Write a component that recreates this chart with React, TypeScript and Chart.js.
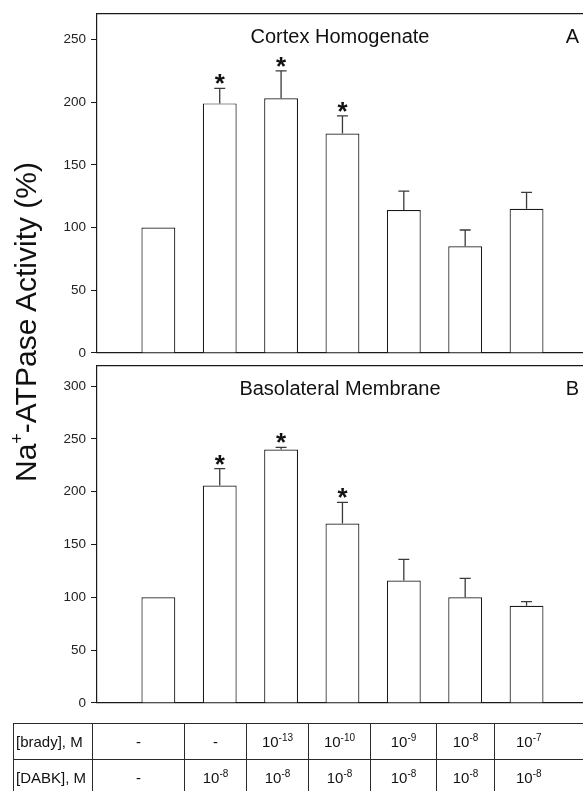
import React, { useEffect, useRef } from 'react';
import { Chart, registerables } from 'chart.js';

Chart.register(...registerables);

const FONT = 'Arial, "Liberation Sans", Helvetica, sans-serif';
Chart.defaults.font.family = FONT;

// ---- data ----
const conditions = ['Control', 'DABK', 'DABK + brady 1e-13', 'DABK + brady 1e-10', 'DABK + brady 1e-9', 'DABK + brady 1e-8', 'DABK + brady 1e-7'];
const xPositions = [1, 2, 3, 4, 5, 6, 7];

const cortexMeans = [100, 199, 203, 175, 114, 85, 115];
const cortexErrors = [0, 12, 22, 14, 15, 13, 13];
const cortexSignificant = [false, true, true, true, false, false, false];

const membraneMeans = [100, 206, 240, 170, 116, 100, 92];
const membraneErrors = [0, 16, 2, 20, 20, 18, 4];
const membraneSignificant = [false, true, true, true, false, false, false];

const cortexTicks = [0, 50, 100, 150, 200, 250];
const membraneTicks = [0, 50, 100, 150, 200, 250, 300];

const bradyExponents: (number | null)[] = [null, null, -13, -10, -9, -8, -7];
const dabkExponents: (number | null)[] = [null, -8, -8, -8, -8, -8, -8];

const X_MAX = 7.92;

const errorBarPlugin = {
  id: 'errorBars',
  afterDatasetsDraw(chart: any) {
    const { ctx } = chart;
    const yScale = chart.scales.y;
    chart.data.datasets.forEach((ds: any, di: number) => {
      const meta = chart.getDatasetMeta(di);
      meta.data.forEach((bar: any, i: number) => {
        const v = ds.data[i].y;
        const e = ds.errors[i];
        const x = bar.x;
        const yTop = yScale.getPixelForValue(v);
        const yCap = yScale.getPixelForValue(v + e);
        ctx.save();
        if (e > 0) {
          ctx.strokeStyle = '#3a3a3a';
          ctx.lineWidth = 1.3;
          ctx.beginPath();
          ctx.moveTo(x, yTop);
          ctx.lineTo(x, yCap);
          ctx.moveTo(x - 5.5, yCap);
          ctx.lineTo(x + 5.5, yCap);
          ctx.stroke();
        }
        if (ds.significant[i]) {
          ctx.fillStyle = '#111';
          ctx.font = `bold 26px ${FONT}`;
          ctx.textAlign = 'center';
          ctx.textBaseline = 'alphabetic';
          ctx.fillText('*', x, yCap + 4);
        }
        ctx.restore();
      });
    });
  },
};

const panelTextPlugin = {
  id: 'panelText',
  afterDraw(chart: any, _args: any, opts: any) {
    const { ctx, chartArea } = chart;
    ctx.save();
    ctx.fillStyle = '#111';
    ctx.font = `20px ${FONT}`;
    ctx.textBaseline = 'alphabetic';
    ctx.textAlign = 'center';
    ctx.fillText(opts.title, (chartArea.left + chartArea.right) / 2, chartArea.top + 30);
    ctx.textAlign = 'right';
    ctx.fillText(opts.letter, chartArea.right - 4, chartArea.top + 30);
    ctx.restore();
  },
};

type PanelProps = {
  means: number[];
  errors: number[];
  significant: boolean[];
  ticks: number[];
  yMax: number;
  title: string;
  letter: string;
  top: number;
  height: number;
  padTop: number;
  padBottom: number;
};

function Panel(p: PanelProps) {
  const ref = useRef<HTMLCanvasElement>(null);
  useEffect(() => {
    if (!ref.current) return;
    const chart = new Chart(ref.current, {
      type: 'bar',
      data: {
        labels: conditions,
        datasets: [
          {
            data: xPositions.map((x, i) => ({ x, y: p.means[i] })),
            backgroundColor: '#ffffff',
            borderColor: '#1a1a1a',
            borderWidth: 1.2,
            barPercentage: 0.6,
            categoryPercentage: 1,
            errors: p.errors,
            significant: p.significant,
          } as any,
        ],
      },
      options: {
        responsive: false,
        animation: false,
        events: [],
        layout: { padding: { left: 0, right: 0, top: p.padTop, bottom: p.padBottom } },
        plugins: {
          legend: { display: false },
          tooltip: { enabled: false },
          panelText: { title: p.title, letter: p.letter },
        } as any,
        scales: {
          x: {
            type: 'linear',
            position: 'bottom',
            min: 0,
            max: X_MAX,
            offset: false,
            ticks: { display: false },
            grid: { display: true, drawOnChartArea: false, drawTicks: false },
            border: { display: true, color: '#1a1a1a', width: 1.2 },
            afterFit: (s: any) => { s.height = 0; },
          },
          xTop: {
            type: 'linear',
            position: 'top',
            min: 0,
            max: X_MAX,
            offset: false,
            ticks: { display: false },
            grid: { display: true, drawOnChartArea: false, drawTicks: false },
            border: { display: true, color: '#1a1a1a', width: 1.2 },
            afterFit: (s: any) => { s.height = 0; },
          },
          y: {
            type: 'linear',
            min: 0,
            max: p.yMax,
            afterBuildTicks: (s: any) => { s.ticks = p.ticks.map((v) => ({ value: v })); },
            ticks: { color: '#222', font: { size: 13.5 }, padding: 5 },
            grid: { display: true, drawOnChartArea: false, drawTicks: true, tickLength: 6, color: '#1a1a1a', lineWidth: 1 },
            border: { display: true, color: '#1a1a1a', width: 1.2 },
            afterFit: (s: any) => { s.width = 97; },
          },
        } as any,
      },
      plugins: [errorBarPlugin, panelTextPlugin],
    });
    return () => chart.destroy();
  }, []);
  return (
    <canvas
      ref={ref}
      width={583}
      height={p.height}
      style={{ position: 'absolute', left: 0, top: p.top, width: 583, height: p.height }}
    />
  );
}

function Power({ exp }: { exp: number | null }) {
  if (exp === null) return <span>-</span>;
  return (
    <span>
      10
      <span style={{ fontSize: 10, position: 'relative', top: -6 }}>{String(exp)}</span>
    </span>
  );
}

const colWidths = [79, 92, 62, 62, 62, 66, 58, 120];

function ConditionTable() {
  const cellBase: React.CSSProperties = {
    border: '1px solid #2a2a2a',
    height: 35,
    padding: 0,
    fontSize: 15,
    fontFamily: FONT,
    color: '#111',
    textAlign: 'center',
    verticalAlign: 'middle',
  };
  const rows: { label: string; exps: (number | null)[] }[] = [
    { label: '[brady], M', exps: bradyExponents },
    { label: '[DABK], M', exps: dabkExponents },
  ];
  return (
    <table
      style={{
        position: 'absolute',
        left: 13,
        top: 723,
        borderCollapse: 'collapse',
        tableLayout: 'fixed',
        width: colWidths.reduce((a, b) => a + b, 0),
      }}
    >
      <colgroup>
        {colWidths.map((w, i) => (
          <col key={i} style={{ width: w }} />
        ))}
      </colgroup>
      <tbody>
        {rows.map((r) => (
          <tr key={r.label}>
            <td style={{ ...cellBase, textAlign: 'left', paddingLeft: 2 }}>{r.label}</td>
            {r.exps.map((e, i) => (
              <td
                key={i}
                style={
                  i === r.exps.length - 1
                    ? { ...cellBase, textAlign: 'left', paddingLeft: 21, borderRight: 'none' }
                    : cellBase
                }
              >
                <Power exp={e} />
              </td>
            ))}
          </tr>
        ))}
      </tbody>
    </table>
  );
}

export default function App() {
  return (
    <div
      style={{
        position: 'absolute',
        left: 0,
        top: 0,
        width: 583,
        height: 791,
        overflow: 'hidden',
        background: '#fff',
        fontFamily: FONT,
      }}
    >
      <Panel
        means={cortexMeans}
        errors={cortexErrors}
        significant={cortexSignificant}
        ticks={cortexTicks}
        yMax={271}
        title="Cortex Homogenate"
        letter="A"
        top={0}
        height={366}
        padTop={12}
        padBottom={9}
      />
      <Panel
        means={membraneMeans}
        errors={membraneErrors}
        significant={membraneSignificant}
        ticks={membraneTicks}
        yMax={320}
        title="Basolateral Membrane"
        letter="B"
        top={352}
        height={364}
        padTop={10}
        padBottom={10}
      />
      <div
        style={{
          position: 'absolute',
          left: 25.6 - 200,
          top: 321.5 - 15,
          width: 400,
          height: 30,
          lineHeight: '30px',
          fontSize: 30,
          fontFamily: FONT,
          color: '#111',
          textAlign: 'center',
          whiteSpace: 'nowrap',
          transform: 'rotate(-90deg)',
          transformOrigin: 'center',
        }}
      >
        Na<span style={{ fontSize: 18, position: 'relative', top: -13 }}>+</span>-ATPase Activity (%)
      </div>
      <ConditionTable />
    </div>
  );
}
